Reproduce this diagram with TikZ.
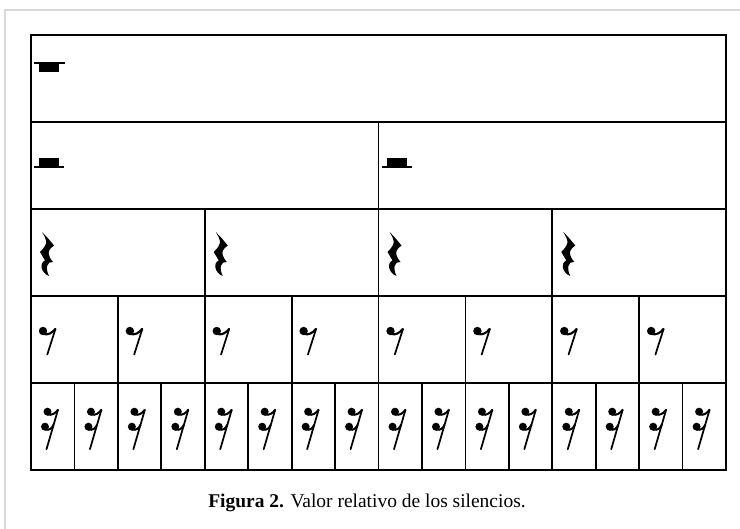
\documentclass[tikz,border=0pt]{standalone}
\usepackage{fontspec}
\setmainfont{Liberation Serif}
\usetikzlibrary{positioning}

\tikzset{
  rule/.style={line width=1.3pt},
  outerrule/.style={line width=2.2pt, line join=miter},
  wholerest/.pic={
    \fill (0,-0.9) rectangle (31,0.9);
    \fill (5,0) rectangle (25,9.2);
  },
  halfrest/.pic={
    \fill (0,-0.9) rectangle (30,0.9);
    \fill (5,0) rectangle (25,-8.6);
  },
  quarterrest/.pic={
    \fill (2,0) .. controls (7,5) .. (14,13.5)
      .. controls (9,17) and (8,20) .. (9,23)
      .. controls (10,26) .. (13,30)
      .. controls (7,29) and (5,36) .. (9,44)
      .. controls (1,41) and (-1,31) .. (5,28.5)
      .. controls (3,25) .. (0,20)
      .. controls (4,16) and (7,12) .. (6,8.5)
      .. controls (5,5) .. (2,0) -- cycle;
  },
  eighthrest/.pic={
    \fill (0,0) circle (4.2);
    \draw[line width=1.6pt] (0,2.8) .. controls (5,4.5) and (9,2) .. (12.5,-2.2);
    \draw[line width=1.3pt, line cap=round] (12.5,-2.2) -- (4.3,23.5);
  },
  sixteenthrest/.pic={
    \fill (0,0) circle (4);
    \fill (-2.5,15) circle (4);
    \draw[line width=1.5pt] (0,2.8) .. controls (4.5,4) and (8,1.5) .. (10.5,-2);
    \draw[line width=1.5pt] (-2.5,17.8) .. controls (2,19) and (4.5,16.5) .. (6.1,13);
    \draw[line width=1.3pt, line cap=round] (10.5,-2) -- (-1,37.5);
  }
}

\begin{document}
\begin{tikzpicture}[x=0.75pt, y=-0.75pt]
  \useasboundingbox (0,0) rectangle (740,529);
  % page frame
  \draw[gray!30, line width=1.1pt] (5,529) -- (5,10) -- (740,10);
  % table rows
  \foreach \y in {122,209,296,383}
    \draw[rule] (31,\y) -- (726,\y);
  % table columns, each from its row down to the bottom
  \foreach \top/\ks in {122/{8}, 209/{4,12}, 296/{2,6,10,14}, 383/{1,3,...,15}}
    \foreach \k in \ks
      \draw[rule] ({31+43.44*\k},\top) -- ({31+43.44*\k},470);
  \draw[outerrule] (31,35) rectangle (726,470);
  % rests
  \pic at (34.3,63) {wholerest};
  \foreach \k in {0,8}
    \pic at ({31+43.44*\k+3.3},167) {halfrest};
  \foreach \k in {0,4,8,12}
    \pic at ({31+43.44*\k+9},232) {quarterrest};
  \foreach \k in {0,2,...,14}
    \pic at ({31+43.44*\k+12},331) {eighthrest};
  \foreach \k in {0,...,15}
    \pic at ({31+43.44*\k+16.5},411.7) {sixteenthrest};
  % caption
  \node[anchor=base, font=\fontsize{14.6}{17}\selectfont] (caption) at (367,507)
    {\textbf{Figura 2.} Valor relativo de los silencios.};
\end{tikzpicture}
\end{document}
